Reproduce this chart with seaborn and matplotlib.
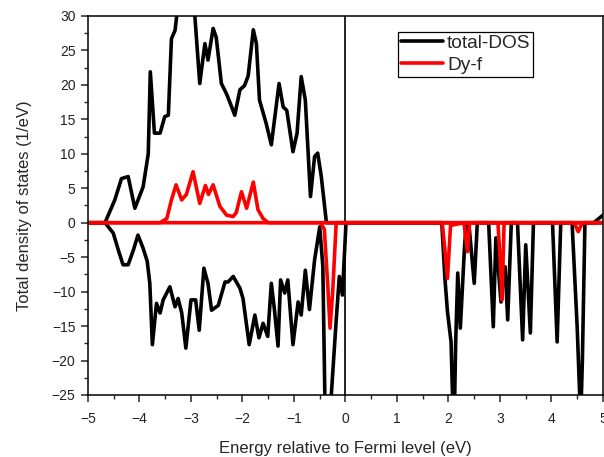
import matplotlib
matplotlib.use("Agg")
import matplotlib.pyplot as plt
import seaborn as sns
from matplotlib.ticker import AutoMinorLocator

# total DOS, spin up (values above 30 are clipped by the axis)
E_total_up = [-5.0, -4.67, -4.48, -4.35, -4.22, -4.09, -3.93, -3.83, -3.79, -3.71,
              -3.60, -3.51, -3.44, -3.38, -3.31, -3.27, -3.15, -3.05, -2.93, -2.83,
              -2.73, -2.67, -2.57, -2.51, -2.41, -2.31, -2.21, -2.15, -2.05, -1.96,
              -1.89, -1.79, -1.73, -1.67, -1.54, -1.44, -1.29, -1.21, -1.14, -1.02,
              -0.94, -0.86, -0.78, -0.68, -0.60, -0.54, -0.47, -0.37, 4.82, 5.0]
dos_total_up = [0, 0, 3.3, 6.4, 6.7, 2.1, 5.2, 10.0, 21.9, 13.0,
                13.0, 15.4, 15.6, 26.7, 27.9, 30.5, 36.0, 36.0, 30.5, 20.2,
                26.0, 23.6, 28.2, 26.9, 20.2, 18.7, 16.8, 15.6, 19.3, 19.9,
                21.3, 28.0, 26.0, 17.8, 14.4, 11.3, 20.2, 16.8, 16.3, 10.3,
                13.0, 21.2, 17.8, 3.8, 9.6, 10.1, 6.7, 0, 0, 1.1]

# total DOS, spin down
E_total_dn = [-5.0, -4.67, -4.51, -4.41, -4.32, -4.22, -4.12, -4.03, -3.93, -3.85,
              -3.80, -3.75, -3.67, -3.60, -3.54, -3.41, -3.31, -3.25, -3.18, -3.10,
              -3.00, -2.91, -2.84, -2.75, -2.67, -2.60, -2.47, -2.34, -2.28, -2.18,
              -2.05, -1.99, -1.87, -1.76, -1.68, -1.60, -1.51, -1.44, -1.38, -1.31,
              -1.26, -1.18, -1.12, -1.02, -0.92, -0.86, -0.78, -0.70, -0.60, -0.50,
              -0.44, -0.40, -0.34, -0.28, -0.18, -0.12, -0.06, 0.01,
              1.87, 1.93, 1.98, 2.05, 2.08, 2.10, 2.12, 2.14, 2.18, 2.23, 2.31, 2.34,
              2.37, 2.40, 2.50, 2.56,
              2.78, 2.87, 2.92, 3.02, 3.06, 3.10, 3.15, 3.22,
              3.34, 3.44, 3.50, 3.59, 3.65,
              4.02, 4.11, 4.18,
              4.40, 4.50, 4.55, 4.57, 4.60, 4.65, 5.0]
dos_total_dn = [0, 0, -1.5, -4.0, -6.1, -6.1, -4.0, -1.8, -3.7, -5.6,
                -8.8, -17.7, -11.7, -13.1, -11.2, -9.3, -12.2, -11.0, -13.1, -18.2,
                -11.2, -11.2, -15.6, -6.6, -8.8, -12.7, -12.0, -8.6, -8.6, -7.8,
                -9.5, -11.0, -17.7, -13.4, -16.7, -14.6, -16.5, -8.8, -12.6, -17.9,
                -8.3, -10.2, -8.3, -17.7, -11.5, -13.4, -6.9, -12.6, -5.4, -0.6,
                -6.3, -25.5, -36.0, -25.5, -14.1, -7.8, -10.5, 0,
                0, -8.0, -12.9, -17.3, -25.5, -30.0, -25.5, -17.3, -7.3, -15.3, -3.7, -0.5,
                -4.0, -0.5, -8.8, 0,
                0, -15.1, -2.2, -11.5, -8.0, -6.4, -14.1, 0,
                0, -17.0, -3.2, -16.0, 0,
                0, -17.3, 0,
                0, -15.3, -25.5, -28.0, -20.0, 0, 0]

# Dy-f, spin up
E_dyf_up = [-5.0, -3.60, -3.47, -3.38, -3.29, -3.18, -3.09, -2.96, -2.83, -2.72,
            -2.66, -2.57, -2.44, -2.31, -2.18, -2.12, -2.02, -1.92, -1.79, -1.70,
            -1.60, -1.50, 5.0]
dos_dyf_up = [0, 0, 0.6, 3.3, 5.5, 3.3, 4.1, 7.4, 2.8, 5.4,
              4.1, 5.5, 2.4, 1.1, 0.9, 1.5, 4.5, 2.1, 5.9, 1.9,
              0.6, 0, 0]

# Dy-f, spin down
E_dyf_dn = [-5.0, -0.48, -0.41, -0.34, -0.30, -0.25, -0.18, 1.88, 1.93, 1.98,
            2.04, 2.30, 2.34, 2.37, 2.41, 2.96, 3.00, 3.04, 3.08, 4.44,
            4.52, 4.60, 5.0]
dos_dyf_dn = [0, 0, -1.0, -9.7, -15.3, -10.2, 0, 0, -4.0, -8.1,
              -0.4, 0, -2.5, -4.2, 0, 0, -5.0, -11.2, 0, 0,
              -1.3, 0, 0]

x_ticks = list(range(-5, 6))
y_ticks = list(range(-25, 31, 5))


def main():
    sns.set_style("ticks")
    plt.rcParams["font.family"] = ["Liberation Sans", "DejaVu Sans"]

    fig = plt.figure(figsize=(6.04, 4.57), dpi=100)
    ax = fig.add_axes([0.1457, 0.1357, 0.8526, 0.8293])

    lw = 2.6
    line_kw = dict(lw=lw, ax=ax, sort=False, solid_joinstyle="round")
    sns.lineplot(x=E_total_up, y=dos_total_up, color="black", label="total-DOS", **line_kw)
    sns.lineplot(x=E_total_dn, y=dos_total_dn, color="black", **line_kw)
    sns.lineplot(x=E_dyf_up, y=dos_dyf_up, color="red", label="Dy-f", **line_kw)
    sns.lineplot(x=E_dyf_dn, y=dos_dyf_dn, color="red", **line_kw)

    ax.axvline(0, color="black", lw=1.2, zorder=1)

    ax.set_xlim(-5, 5)
    ax.set_ylim(-25, 30)
    ax.set_xticks(x_ticks)
    ax.set_yticks(y_ticks)
    ax.xaxis.set_minor_locator(AutoMinorLocator(2))
    ax.yaxis.set_minor_locator(AutoMinorLocator(2))
    ax.tick_params(which="major", direction="out", length=5, width=1.1,
                   labelsize=10, labelcolor="#222222")
    ax.tick_params(which="minor", direction="out", length=3, width=1.0)
    ax.tick_params(axis="x", pad=7)
    ax.tick_params(axis="y", pad=4)

    for sp in ax.spines.values():
        sp.set_visible(True)
        sp.set_linewidth(1.1)
        sp.set_color("black")

    ax.set_xlabel("Energy relative to Fermi level (eV)", fontsize=12, labelpad=11)
    ax.set_ylabel("Total density of states (1/eV)", fontsize=12, labelpad=14)

    leg = ax.legend(loc="upper left", bbox_to_anchor=(0.602, 0.958), borderaxespad=0,
                    fontsize=13.8, handlelength=2.2, handletextpad=0.2,
                    borderpad=0.15, labelspacing=0.22, fancybox=False, framealpha=1)
    leg.get_frame().set_edgecolor("black")
    leg.get_frame().set_linewidth(0.9)

    fig.savefig("out.png", dpi=100)
    plt.close(fig)


if __name__ == "__main__":
    main()
